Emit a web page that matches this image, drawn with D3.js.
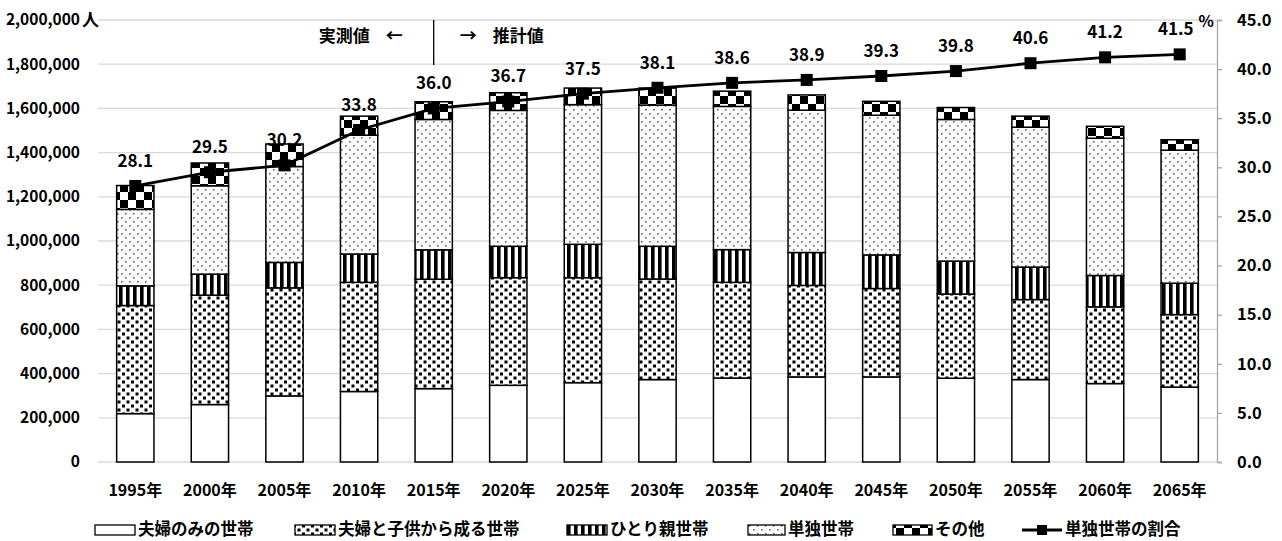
<!DOCTYPE html>
<html><head><meta charset="utf-8">
<script src="https://cdn.jsdelivr.net/npm/d3@7"></script>
<style>
html,body{margin:0;padding:0;background:#fff;}
svg text{font-family:"Noto Sans CJK JP","Noto Sans",sans-serif;font-weight:700;fill:#000;}
</style></head>
<body>
<svg id="chart" width="1282" height="541"></svg>
<script>
const years = ["1995年","2000年","2005年","2010年","2015年","2020年","2025年","2030年","2035年","2040年","2045年","2050年","2055年","2060年","2065年"];
const coupleOnly     = [219000,260000,299000,319000,332000,347000,359000,373000,380000,385000,385000,379000,373000,355000,339000];
const coupleChildren = [489000,495000,489000,494000,495000,487000,475000,455000,433000,414000,400000,381000,362000,347000,328000];
const singleParent   = [ 89000, 95000,115000,128000,133000,142000,151000,148000,148000,149000,152000,149000,147000,142000,142000];
const singleHH       = [346000,400000,434000,538000,590000,615000,632000,639000,648000,644000,632000,641000,633000,621000,602000];
const others         = [108000,103000,102000, 86000, 80000, 80000, 75000, 77000, 69000, 69000, 63000, 54000, 50000, 54000, 47000];
const singleRatio    = [28.1,29.5,30.2,33.8,36.0,36.7,37.5,38.1,38.6,38.9,39.3,39.8,40.6,41.2,41.5];
const seriesNames = ["夫婦のみの世帯","夫婦と子供から成る世帯","ひとり親世帯","単独世帯","その他"];
const lineName = "単独世帯の割合";
const leftTicks = [0,200000,400000,600000,800000,1000000,1200000,1400000,1600000,1800000,2000000];
const rightTicks = [0,5,10,15,20,25,30,35,40,45];

const svg = d3.select("#chart");
const L = 98, R = 1217, T = 20, B = 462;
const FONT = '"Noto Sans CJK JP","Noto Sans",sans-serif';

// patterns
const defs = svg.append("defs");
function pat(id, w, h, draw){
  const p = defs.append("pattern").attr("id", id).attr("patternUnits","userSpaceOnUse")
    .attr("width", w).attr("height", h);
  p.append("rect").attr("width", w).attr("height", h).attr("fill", "#fff");
  draw(p);
}
pat("p0", 8, 8, p => {});
pat("p1", 9, 8, p => {
  p.append("rect").attr("x",0.5).attr("y",0.5).attr("width",3).attr("height",3).attr("fill","#000");
  p.append("rect").attr("x",5).attr("y",4.5).attr("width",3).attr("height",3).attr("fill","#000");
});
pat("p2", 7, 7, p => {
  p.append("rect").attr("x",0).attr("y",0).attr("width",3.6).attr("height",7).attr("fill","#000");
});
pat("p3", 8, 8, p => {
  p.append("rect").attr("x",1).attr("y",1).attr("width",1.6).attr("height",1.6).attr("fill","#666");
  p.append("rect").attr("x",5).attr("y",5).attr("width",1.6).attr("height",1.6).attr("fill","#666");
});
pat("p4", 16, 16, p => {
  p.append("rect").attr("x",0).attr("y",0).attr("width",8).attr("height",8).attr("fill","#000");
  p.append("rect").attr("x",8).attr("y",8).attr("width",8).attr("height",8).attr("fill","#000");
});

const x = d3.scaleBand().domain(years).range([L, R]).paddingInner(0.5).paddingOuter(0.25);
const y = d3.scaleLinear().domain([0, 2000000]).range([B, T]);
const y2 = d3.scaleLinear().domain([0, 45]).range([B, T]);

// gridlines
svg.append("g").selectAll("line").data(leftTicks).join("line")
  .attr("x1", L).attr("x2", R).attr("y1", d => y(d)).attr("y2", d => y(d))
  .attr("stroke", "#d9d9d9").attr("stroke-width", 1.3);

// left axis labels
const fmt = d3.format(",");
const ga = svg.append("g").attr("transform", `translate(${L},0)`)
  .call(d3.axisLeft(y).tickValues(leftTicks).tickFormat(fmt).tickSize(0).tickPadding(18));
ga.select(".domain").remove();
ga.selectAll("text").attr("font-size", 15.5).style("font-family", FONT).style("font-weight",700);
svg.append("text").attr("x", 82).attr("y", y(2000000)).attr("dy","0.35em").attr("font-size", 17).text("人");

// right axis
const gr = svg.append("g").attr("transform", `translate(${R},0)`)
  .call(d3.axisRight(y2).tickValues(rightTicks).tickFormat(d3.format(".1f")).tickSize(5).tickPadding(15));
gr.select(".domain").attr("stroke", "#a6a6a6").attr("stroke-width", 1.3);
gr.selectAll(".tick line").attr("stroke", "#a6a6a6").attr("stroke-width", 1.3);
gr.selectAll("text").attr("font-size", 16.5).style("font-family", FONT).style("font-weight",700);
svg.append("text").attr("x", 1214).attr("y", 21).attr("dy","0.35em").attr("text-anchor","end").attr("font-size", 16).text("%");

// x axis labels
svg.append("g").selectAll("text").data(years).join("text")
  .attr("x", d => x(d) + x.bandwidth()/2).attr("y", 490).attr("dy","0.35em")
  .attr("text-anchor","middle").attr("font-size", 16).text(d => d);

// stacked bars
const seriesData = [coupleOnly, coupleChildren, singleParent, singleHH, others];
const rows = years.map((yr, i) => {
  const o = {year: yr};
  seriesData.forEach((s, k) => o["s"+k] = s[i]);
  return o;
});
const stack = d3.stack().keys(["s0","s1","s2","s3","s4"])(rows);
svg.append("g").selectAll("g").data(stack).join("g")
  .attr("fill", (d, k) => `url(#p${k})`)
  .selectAll("rect").data(d => d).join("rect")
  .attr("x", d => x(d.data.year)).attr("width", x.bandwidth())
  .attr("y", d => y(d[1])).attr("height", d => y(d[0]) - y(d[1]))
  .attr("stroke", "#000").attr("stroke-width", 1.5);

// line
const line = d3.line().x((d, i) => x(years[i]) + x.bandwidth()/2).y(d => y2(d));
svg.append("path").datum(singleRatio).attr("d", line)
  .attr("fill","none").attr("stroke","#000").attr("stroke-width", 2.8);
const ms = 12;
svg.append("g").selectAll("rect").data(singleRatio).join("rect")
  .attr("x", (d, i) => x(years[i]) + x.bandwidth()/2 - ms/2)
  .attr("y", d => y2(d) - ms/2).attr("width", ms).attr("height", ms).attr("fill","#000");
svg.append("g").selectAll("text").data(singleRatio).join("text")
  .attr("x", (d, i) => x(years[i]) + x.bandwidth()/2 - (i === years.length-1 ? 4 : 0))
  .attr("y", d => y2(d) - 25).attr("dy","0.35em").attr("text-anchor","middle")
  .attr("font-size", 17).text(d => d.toFixed(1));

// annotation
const divX = x("2015年") + x.bandwidth()/2;
svg.append("line").attr("x1", divX).attr("x2", divX).attr("y1", 20).attr("y2", 65)
  .attr("stroke","#000").attr("stroke-width", 1.3);
svg.append("text").attr("x", divX - 31).attr("y", 36).attr("dy","0.35em").attr("text-anchor","end")
  .attr("font-size", 17).text("←");
svg.append("text").attr("x", divX - 64).attr("y", 36).attr("dy","0.35em").attr("text-anchor","end")
  .attr("font-size", 17).text("実測値");
svg.append("text").attr("x", divX + 26).attr("y", 36).attr("dy","0.35em")
  .attr("font-size", 17).text("→");
svg.append("text").attr("x", divX + 59).attr("y", 36).attr("dy","0.35em")
  .attr("font-size", 17).text("推計値");

// legend
const legY = 529;
const legItems = [
  {type:"bar", k:0, sx:95, sw:40},
  {type:"bar", k:1, sx:295, sw:40},
  {type:"bar", k:2, sx:567, sw:40},
  {type:"bar", k:3, sx:748, sw:37},
  {type:"bar", k:4, sx:893, sw:39},
  {type:"line", sx:1022, sw:40}
];
const lg = svg.append("g");
legItems.forEach(it => {
  if (it.type === "bar") {
    lg.append("rect").attr("x", it.sx).attr("y", legY - 4).attr("width", it.sw).attr("height", 10)
      .attr("fill", `url(#p${it.k})`).attr("stroke","#000").attr("stroke-width",1.3);
    lg.append("text").attr("x", it.sx + it.sw + 3).attr("y", legY).attr("dy","0.35em").attr("font-size", 16.5).text(seriesNames[it.k]);
  } else {
    lg.append("line").attr("x1", it.sx).attr("x2", it.sx + it.sw).attr("y1", legY + 1).attr("y2", legY + 1)
      .attr("stroke","#000").attr("stroke-width",2.8);
    lg.append("rect").attr("x", it.sx + it.sw/2 - 5).attr("y", legY - 4).attr("width",10).attr("height",10).attr("fill","#000");
    lg.append("text").attr("x", it.sx + it.sw + 3).attr("y", legY).attr("dy","0.35em").attr("font-size", 16.5).text(lineName);
  }
});
</script>
</body></html>
